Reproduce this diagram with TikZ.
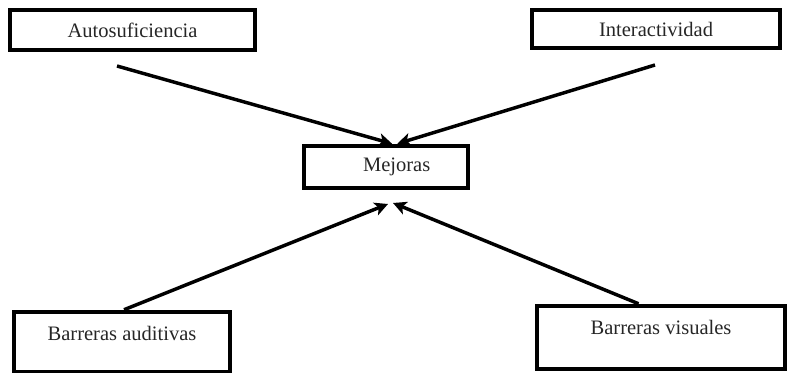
\documentclass[tikz,border=0pt]{standalone}
\usepackage{fontspec}
\setmainfont{Liberation Serif}
\usetikzlibrary{arrows.meta,calc}
\begin{document}
\begin{tikzpicture}[x=0.75pt,y=-0.75pt,
  box/.style={draw=black,line width=3pt,inner sep=0pt,font=\fontsize{15.4}{18}\selectfont,text=black!85},
  conn/.style={line width=2.6pt,-{Stealth[length=10pt,width=10pt,inset=2.5pt]}}]
\useasboundingbox (0,0) rectangle (792,373);
\node[box,minimum width=184pt,minimum height=30.4pt] (auto) at (132.5,30) {Autosuficiencia};
\node[box,minimum width=186.4pt,minimum height=28.9pt] (inter) at (656,29) {Interactividad};
\node[box,minimum width=123.4pt,minimum height=31.9pt] (mej) at (386,167) {\hspace*{16pt}Mejoras};
\node[box,anchor=north west,minimum width=162.4pt,text height=21.2pt,text depth=24.2pt] (aud) at (11.75,309.75) {Barreras auditivas};
\node[box,anchor=north west,minimum width=186.4pt,text height=21.9pt,text depth=25.7pt] (vis) at (534.75,303.75) {Barreras visuales};
\coordinate (s1) at (117,66);
\coordinate (s2) at (655,65);
\coordinate (t3) at (388,204);
\coordinate (t4) at (393,203);
\draw[conn] (s1) -- ($(mej.north west)!0.536!(mej.north east)$);
\draw[conn] (s2) -- ($(mej.north west)!0.567!(mej.north east)$);
\draw[conn] ($(aud.north west)!0.509!(aud.north east)$) -- (t3);
\draw[conn] ($(vis.north west)!0.411!(vis.north east)$) -- (t4);
\end{tikzpicture}
\end{document}
